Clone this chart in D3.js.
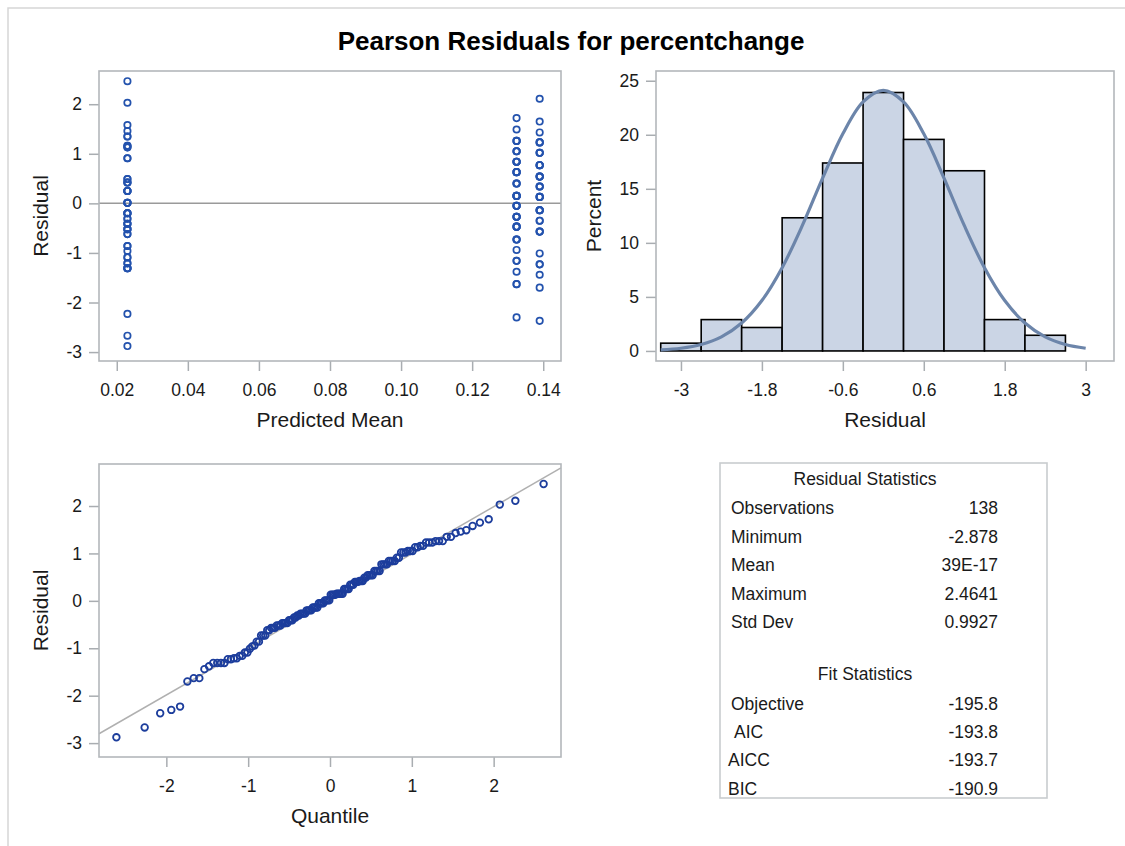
<!DOCTYPE html>
<html>
<head>
<meta charset="utf-8">
<script src="https://cdn.jsdelivr.net/npm/d3@7/dist/d3.min.js"></script>
<style>
  body { margin: 0; background: #fff; }
  text { font-family: "Liberation Sans", Arial, sans-serif; fill: #1a1a1a; }
</style>
</head>
<body>
<svg id="chart" width="1125" height="846"></svg>
<script>
// Predicted mean of each group (x position of the residual columns)
const predictedMeans = [0.023, 0.1325, 0.139];

// Pearson residuals per group (repeats = overlapping markers)
const residualsLow = [
  2.4641, 2.03, 1.58, 1.46, 1.35, 1.35, 1.16, 1.16, 1.13, 1.13, 0.91, 0.91,
  0.49, 0.49, 0.42, 0.42, 0.42,
  0.25, 0.25, 0.25, 0.25, 0.01, 0.01, 0.01, 0.01, -0.20, -0.20, -0.20, -0.20,
  -0.31, -0.31, -0.41, -0.41, -0.41, -0.52, -0.52, -0.52, -0.62, -0.62, -0.86, -0.86,
  -0.96, -1.09, -1.09, -1.21, -1.21, -1.31, -1.31, -1.31, -1.31,
  -2.23, -2.67, -2.878
];
const residualsMid = [
  1.72, 1.49, 1.26, 1.26, 1.26, 1.05, 1.05, 1.05,
  0.84, 0.84, 0.84, 0.84, 0.63, 0.63, 0.63, 0.63, 0.40, 0.40, 0.40,
  0.15, 0.15, 0.15, 0.15, 0.15, -0.05, -0.05, -0.05, -0.05, -0.27, -0.27, -0.27, -0.27,
  -0.47, -0.47, -0.47, -0.47, -0.73, -0.73, -0.73,
  -0.94, -1.16, -1.16, -1.38, -1.63, -1.63, -2.30
];
const residualsHigh = [
  2.11, 1.65, 1.43, 1.23, 1.23, 1.23, 1.02, 1.02, 1.02,
  0.77, 0.77, 0.77, 0.77, 0.54, 0.54, 0.54, 0.54, 0.34, 0.34, 0.34,
  0.13, 0.13, 0.13, 0.13, -0.14, -0.14, -0.14, -0.14,
  -0.35, -0.35, -0.57, -0.57, -0.57,
  -1.01, -1.23, -1.23, -1.44, -1.70, -2.37
];

// Histogram of residuals (bin midpoints, percent of observations)
const histBinMids = [-3, -2.4, -1.8, -1.2, -0.6, 0, 0.6, 1.2, 1.8, 2.4];
const histPercent = [0.72, 2.90, 2.17, 12.32, 17.39, 23.91, 19.57, 16.67, 2.90, 1.45];
const histBinWidth = 0.6;

// Normal density overlay, in percent per bin
const densityX = [-3.3, -3.0, -2.7, -2.4, -2.1, -1.8, -1.5, -1.2, -0.9, -0.6, -0.3, 0,
                  0.3, 0.6, 0.9, 1.2, 1.5, 1.8, 2.1, 2.4, 2.7, 3.0];
const densityPct = [0.10, 0.25, 0.60, 1.30, 2.58, 4.66, 7.70, 11.61, 15.99, 20.09, 23.04, 24.11,
                    23.04, 20.09, 15.99, 11.61, 7.70, 4.66, 2.58, 1.30, 0.60, 0.25];

// Statistics table
const residualStatLabels = ['Observations', 'Minimum', 'Mean', 'Maximum', 'Std Dev'];
const residualStatValues = ['138', '-2.878', '39E-17', '2.4641', '0.9927'];
const fitStatLabels = ['Objective', 'AIC', 'AICC', 'BIC'];
const fitStatValues = ['-195.8', '-193.8', '-193.7', '-190.9'];
const residualMean = 0;
const residualStd = 0.9927;

const svg = d3.select('#chart');
svg.append('rect').attr('width', 1125).attr('height', 846).attr('fill', '#fff');

// outer light border (only top and left are visible)
svg.append('path')
  .attr('d', 'M8,846 V8 H1125')
  .attr('fill', 'none').attr('stroke', '#d6d6d6').attr('stroke-width', 1.5);

svg.append('text')
  .attr('x', 571).attr('y', 50)
  .attr('text-anchor', 'middle')
  .style('font-size', '26px').style('font-weight', 'bold').style('fill', '#000')
  .text('Pearson Residuals for percentchange');

const TICK_FONT = '17.5px';
const LABEL_FONT = '21px';
const MARK_COLOR = '#2352ad';
const QQ_COLOR = '#1c3d9c';

// plain hyphen for negative numbers, as in the original
const hyphen = f => d => f(d).replace('\u2212', '-');

// Draws both axes, the frame and the axis labels of one panel
function drawAxes(g, x, y, xTicks, yTicks, xFmt, yFmt, xLabel, yLabel, yLabelX, xLabelY) {
  const [x0, x1] = x.range();
  const [y1, y0] = y.range();

  const ax = g.append('g')
    .attr('transform', `translate(0,${y1})`)
    .call(d3.axisBottom(x).tickValues(xTicks).tickFormat(hyphen(xFmt))
      .tickSize(10).tickSizeOuter(0).tickPadding(13));
  const ay = g.append('g')
    .attr('transform', `translate(${x0},0)`)
    .call(d3.axisLeft(y).tickValues(yTicks).tickFormat(hyphen(yFmt))
      .tickSize(10).tickSizeOuter(0).tickPadding(7));

  [ax, ay].forEach(a => {
    a.select('.domain').remove();
    a.selectAll('line').attr('stroke', '#a9adb1').attr('stroke-width', 1.5);
    a.selectAll('text').style('font-size', TICK_FONT).style('fill', '#1a1a1a')
      .style('font-family', '"Liberation Sans", Arial, sans-serif');
  });

  g.append('rect')
    .attr('x', x0).attr('y', y0)
    .attr('width', x1 - x0).attr('height', y1 - y0)
    .attr('fill', 'none').attr('stroke', '#b3b7bb').attr('stroke-width', 1.6);

  g.append('text')
    .attr('x', (x0 + x1) / 2).attr('y', xLabelY)
    .attr('text-anchor', 'middle').style('font-size', LABEL_FONT)
    .text(xLabel);
  g.append('text')
    .attr('transform', `translate(${yLabelX},${(y0 + y1) / 2}) rotate(-90)`)
    .attr('text-anchor', 'middle').style('font-size', LABEL_FONT)
    .text(yLabel);
}

// ---- Panel 1: residual vs predicted mean ----
const p1 = svg.append('g');
const x1s = d3.scaleLinear().domain([0.015, 0.145]).range([99, 561]);
const y1s = d3.scaleLinear().domain([-3.18, 2.67]).range([361, 71]);

p1.append('line')
  .attr('x1', 99).attr('x2', 561)
  .attr('y1', y1s(0)).attr('y2', y1s(0))
  .attr('stroke', '#9a9a9a').attr('stroke-width', 1.5);

const groups = [residualsLow, residualsMid, residualsHigh];
const scatterPoints = [];
groups.forEach((arr, gi) => arr.forEach(r => scatterPoints.push({ x: predictedMeans[gi], r })));

p1.selectAll('circle.pt')
  .data(scatterPoints)
  .enter().append('circle')
    .attr('class', 'pt')
    .attr('cx', d => x1s(d.x))
    .attr('cy', d => y1s(d.r))
    .attr('r', 3.2)
    .attr('fill', 'none').attr('stroke', MARK_COLOR).attr('stroke-width', 1.7);

drawAxes(p1, x1s, y1s, [0.02, 0.04, 0.06, 0.08, 0.10, 0.12, 0.14], [-3, -2, -1, 0, 1, 2],
  d3.format('.2f'), d3.format('d'), 'Predicted Mean', 'Residual', 48, 427);

// ---- Panel 2: histogram of residuals ----
const p2 = svg.append('g');
const x2s = d3.scaleLinear().domain([-3.37, 3.42]).range([656, 1114]);
const y2s = d3.scaleLinear().domain([-0.93, 25.9]).range([361, 71]);

p2.selectAll('rect.bar')
  .data(histBinMids.map((m, i) => ({ m, p: histPercent[i] })))
  .enter().append('rect')
    .attr('class', 'bar')
    .attr('x', d => x2s(d.m - histBinWidth / 2))
    .attr('width', d => x2s(d.m + histBinWidth / 2) - x2s(d.m - histBinWidth / 2))
    .attr('y', d => y2s(d.p))
    .attr('height', d => y2s(0) - y2s(d.p))
    .attr('fill', '#cbd5e5').attr('stroke', '#000').attr('stroke-width', 1.6);

const densityLine = d3.line()
  .x((d, i) => x2s(densityX[i]))
  .y(d => y2s(d))
  .curve(d3.curveCatmullRom);

p2.append('path')
  .datum(densityPct)
  .attr('d', densityLine)
  .attr('fill', 'none').attr('stroke', '#6c85aa').attr('stroke-width', 3.2)
  .attr('stroke-linejoin', 'round');

drawAxes(p2, x2s, y2s, [-3, -1.8, -0.6, 0.6, 1.8, 3], [0, 5, 10, 15, 20, 25],
  d3.format('~g'), d3.format('d'), 'Residual', 'Percent', 601, 427);

// ---- Panel 3: normal quantile plot ----
// inverse standard normal CDF (Acklam's approximation)
function normInv(p) {
  const a = [-39.69683028665376, 220.9460984245205, -275.9285104469687, 138.3577518672690, -30.66479806614716, 2.506628277459239];
  const b = [-54.47609879822406, 161.5858368580409, -155.6989798598866, 66.80131188771972, -13.28068155288572];
  const c = [-0.007784894002430293, -0.3223964580411365, -2.400758277161838, -2.549732539343734, 4.374664141464968, 2.938163982698783];
  const d = [0.007784695709041462, 0.3224671290700398, 2.445134137142996, 3.754408661907416];
  const pl = 0.02425;
  if (p < pl) {
    const q = Math.sqrt(-2 * Math.log(p));
    return (((((c[0] * q + c[1]) * q + c[2]) * q + c[3]) * q + c[4]) * q + c[5]) /
      ((((d[0] * q + d[1]) * q + d[2]) * q + d[3]) * q + 1);
  }
  if (p > 1 - pl) return -normInv(1 - p);
  const q = p - 0.5, r = q * q;
  return (((((a[0] * r + a[1]) * r + a[2]) * r + a[3]) * r + a[4]) * r + a[5]) * q /
    (((((b[0] * r + b[1]) * r + b[2]) * r + b[3]) * r + b[4]) * r + 1);
}

const sortedResiduals = residualsLow.concat(residualsMid, residualsHigh).sort(d3.ascending);
const n = sortedResiduals.length;
const qqPoints = sortedResiduals.map((r, i) => ({ q: normInv((i + 1 - 0.375) / (n + 0.25)), r }));

const p3 = svg.append('g');
const x3s = d3.scaleLinear().domain([-2.823, 2.823]).range([99, 561]);
const y3s = d3.scaleLinear().domain([-3.293, 2.886]).range([757, 464]);

p3.append('line')
  .attr('x1', x3s(-2.823)).attr('x2', x3s(2.823))
  .attr('y1', y3s(residualMean + residualStd * -2.823))
  .attr('y2', y3s(residualMean + residualStd * 2.823))
  .attr('stroke', '#b0b0b0').attr('stroke-width', 1.5);

p3.selectAll('circle.qq')
  .data(qqPoints)
  .enter().append('circle')
    .attr('class', 'qq')
    .attr('cx', d => x3s(d.q))
    .attr('cy', d => y3s(d.r))
    .attr('r', 3.3)
    .attr('fill', 'none').attr('stroke', QQ_COLOR).attr('stroke-width', 1.8);

drawAxes(p3, x3s, y3s, [-2, -1, 0, 1, 2], [-3, -2, -1, 0, 1, 2],
  d3.format('d'), d3.format('d'), 'Quantile', 'Residual', 48, 823);

// ---- Panel 4: statistics table ----
const p4 = svg.append('g');
p4.append('rect')
  .attr('x', 720).attr('y', 463).attr('width', 327).attr('height', 335)
  .attr('fill', 'none').attr('stroke', '#c9cccf').attr('stroke-width', 1.6);

const TABLE_FONT = '17.5px';
const labelX = 731, valueX = 998, tableMid = 865;

p4.append('text').attr('x', tableMid).attr('y', 485)
  .attr('text-anchor', 'middle').style('font-size', TABLE_FONT).text('Residual Statistics');

residualStatLabels.forEach((lab, i) => {
  const yy = 514 + i * 28.5;
  p4.append('text').attr('x', labelX).attr('y', yy).style('font-size', TABLE_FONT).text(lab);
  p4.append('text').attr('x', valueX).attr('y', yy).attr('text-anchor', 'end')
    .style('font-size', TABLE_FONT).text(residualStatValues[i]);
});

p4.append('text').attr('x', tableMid).attr('y', 680)
  .attr('text-anchor', 'middle').style('font-size', TABLE_FONT).text('Fit Statistics');

const fitLabelX = [731, 734, 728, 728];
fitStatLabels.forEach((lab, i) => {
  const yy = 710 + i * 28.2;
  p4.append('text').attr('x', fitLabelX[i]).attr('y', yy).style('font-size', TABLE_FONT).text(lab);
  p4.append('text').attr('x', valueX).attr('y', yy).attr('text-anchor', 'end')
    .style('font-size', TABLE_FONT).text(fitStatValues[i]);
});
</script>
</body>
</html>
